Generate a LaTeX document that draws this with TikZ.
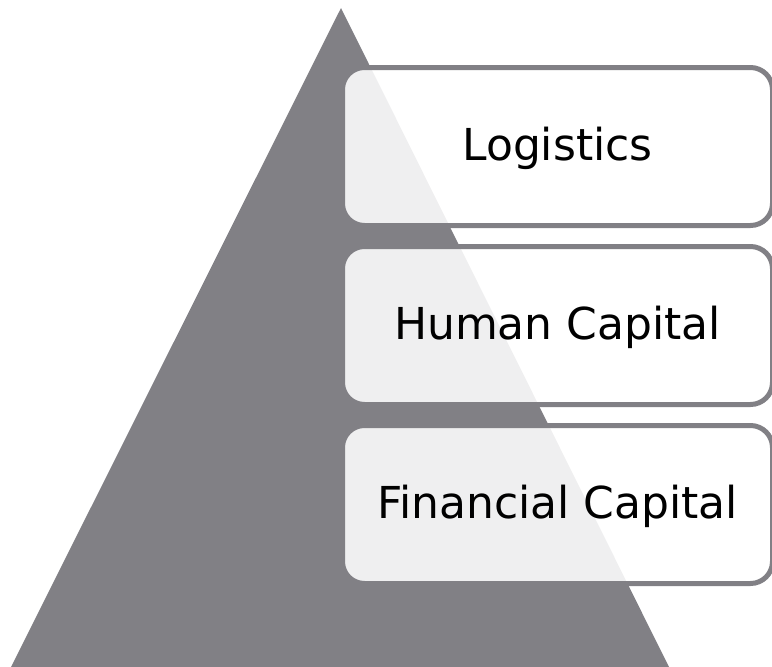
\documentclass[tikz,border=0pt]{standalone}
\usepackage{fontspec}
\setmainfont{DejaVu Sans}
\definecolor{pyrgray}{RGB}{129,128,133}
\tikzset{
  layerbox/.style={draw=pyrgray, line width=5pt, fill=white, fill opacity=0.88,
    text opacity=1, draw opacity=1, rounded corners=22pt,
    minimum width=430pt, minimum height=158pt, inner sep=0pt,
    text height=30pt, text depth=3pt,
    font=\fontsize{44}{50}\selectfont, text=black}
}
\begin{document}
\begin{tikzpicture}[x=1pt,y=-1pt]
\useasboundingbox (0,0) rectangle (772,667);
\fill[pyrgray] (341,8) coordinate (apex) -- (11,667) coordinate (bl) -- (669,667) coordinate (br) -- cycle;
\node[layerbox] (logistics) at (557.5,146.5) {Logistics};
\node[layerbox] (human) at (557.5,325.5) {Human Capital};
\node[layerbox] (financial) at (557.5,504.5) {Financial Capital};
\end{tikzpicture}
\end{document}
